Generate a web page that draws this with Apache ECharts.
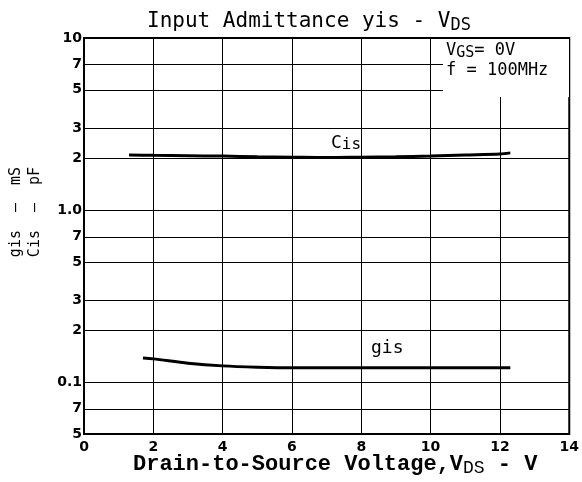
<!DOCTYPE html>
<html>
<head>
<meta charset="utf-8">
<script src="https://cdn.jsdelivr.net/npm/echarts@6/dist/echarts.min.js"></script>
<style>
  html, body { margin: 0; padding: 0; background: #fff; }
  #chart { width: 582px; height: 482px; }
</style>
</head>
<body>
<div id="chart"></div>
<script>
// values
var vds = [1.3, 2, 3, 4, 5, 6, 7, 8, 9, 10, 11, 12, 12.3]
var cis = [2.09, 2.08, 2.07, 2.06, 2.04, 2.03, 2.02, 2.03, 2.04, 2.06, 2.09, 2.12, 2.15]
var vdsG = [1.7, 2, 3, 4, 5, 6, 7, 8, 9, 10, 11, 12, 12.3]
var gis = [0.138, 0.1366, 0.129, 0.1244, 0.1222, 0.1212, 0.1212, 0.1215, 0.1215, 0.1215, 0.1215, 0.1215, 0.1215]

// y grid lines and their labels (log axis)
var yTicks = [10, 7, 5, 3, 2, 1, 0.7, 0.5, 0.3, 0.2, 0.1, 0.07, 0.05]
var yTickLabels = ['10', '7', '5', '3', '2', '1.0', '7', '5', '3', '2', '0.1', '7', '5']

var chart = echarts.init(document.getElementById('chart'))

function pairs(xs, ys) {
  return xs.map(function (x, i) { return [x, ys[i]] })
}

var tickFont = { color: '#000', fontFamily: 'DejaVu Sans', fontWeight: 'bold', fontSize: 14 }

var option = {
  animation: false,
  backgroundColor: '#fff',
  title: {
    left: 142,
    top: 3,
    text: '{a|Input Admittance yis - V}{s|DS}',
    textStyle: {
      fontWeight: 'normal',
      rich: {
        a: { fontFamily: 'DejaVu Sans Mono', fontWeight: 'normal', fontSize: 21, color: '#000', lineHeight: 28 },
        s: { fontFamily: 'DejaVu Sans Mono', fontWeight: 'normal', fontSize: 17, color: '#000', lineHeight: 28, padding: [8, 0, 0, 0] }
      }
    }
  },
  grid: {
    left: 84, right: 10, top: 38, bottom: 48,
    show: true, borderColor: '#000', borderWidth: 2, backgroundColor: '#fff'
  },
  xAxis: {
    type: 'value',
    min: 0, max: 14, interval: 2,
    axisLine: { show: false },
    axisTick: { show: false },
    axisLabel: Object.assign({ margin: 6 }, tickFont),
    splitLine: { show: true, lineStyle: { color: '#000', width: 1 } }
  },
  yAxis: {
    type: 'log',
    logBase: 10,
    min: 0.05, max: 10,
    axisLine: { show: false },
    axisTick: { show: false },
    axisLabel: { show: false },
    splitLine: { show: false }
  },
  series: [
    {
      name: 'Cis',
      type: 'line',
      smooth: 0.3,
      showSymbol: false,
      data: pairs(vds, cis),
      lineStyle: { color: '#000', width: 3 },
      z: 5,
      markLine: {
        silent: true,
        symbol: ['none', 'none'],
        animation: false,
        lineStyle: { color: '#000', width: 1, type: 'solid' },
        label: Object.assign({ position: 'start', formatter: '{b}', distance: 2 }, tickFont),
        data: yTicks.map(function (v, i) { return { yAxis: v, name: yTickLabels[i] } })
      }
    },
    {
      name: 'gis',
      type: 'line',
      smooth: 0.3,
      showSymbol: false,
      data: pairs(vdsG, gis),
      lineStyle: { color: '#000', width: 3 },
      z: 5
    }
  ],
  graphic: [
    // condition box covering the grid
    { type: 'rect', z: 100, shape: { x: 443, y: 39, width: 126, height: 58 }, style: { fill: '#fff' } },
    {
      type: 'text', z: 101, left: 446, top: 40,
      style: {
        text: '{a|V}{s|GS}{a|= 0V}\n{a|f = 100MHz}',
        rich: {
          a: { fontFamily: 'DejaVu Sans Mono', fontSize: 17, fill: '#000', lineHeight: 20 },
          s: { fontFamily: 'DejaVu Sans Mono', fontSize: 15, fill: '#000', lineHeight: 20, padding: [6, 0, 0, 0] }
        }
      }
    },
    {
      type: 'text', z: 101, left: 331, top: 133,
      style: {
        text: '{a|C}{s|is}',
        rich: {
          a: { fontFamily: 'DejaVu Sans Mono', fontSize: 18, fill: '#000', lineHeight: 20 },
          s: { fontFamily: 'DejaVu Sans Mono', fontSize: 16, fill: '#000', lineHeight: 20, padding: [4, 0, 0, 0] }
        }
      }
    },
    {
      type: 'text', z: 101, left: 371, top: 339,
      style: { text: 'gis', font: '18px "DejaVu Sans Mono"', fill: '#000' }
    },
    // y axis name, two rotated lines
    {
      type: 'text', z: 101, x: 26, y: 212, rotation: Math.PI / 2,
      style: {
        text: 'gis  —  mS\nCis  —  pF',
        font: '15px "DejaVu Sans Mono"',
        lineHeight: 19,
        fill: '#000',
        align: 'center',
        verticalAlign: 'middle'
      }
    },
    // x axis name
    {
      type: 'text', z: 101, left: 133, top: 451,
      style: {
        text: '{a|Drain-to-Source Voltage,V}{s|DS}{a| - V}',
        rich: {
          a: { fontFamily: 'Liberation Mono', fontWeight: 'bold', fontSize: 22, fill: '#000', lineHeight: 25 },
          s: { fontFamily: 'Liberation Mono', fontSize: 18, fill: '#000', lineHeight: 25, padding: [8, 0, 0, 0] }
        }
      }
    }
  ]
}

chart.setOption(option)
</script>
</body>
</html>
